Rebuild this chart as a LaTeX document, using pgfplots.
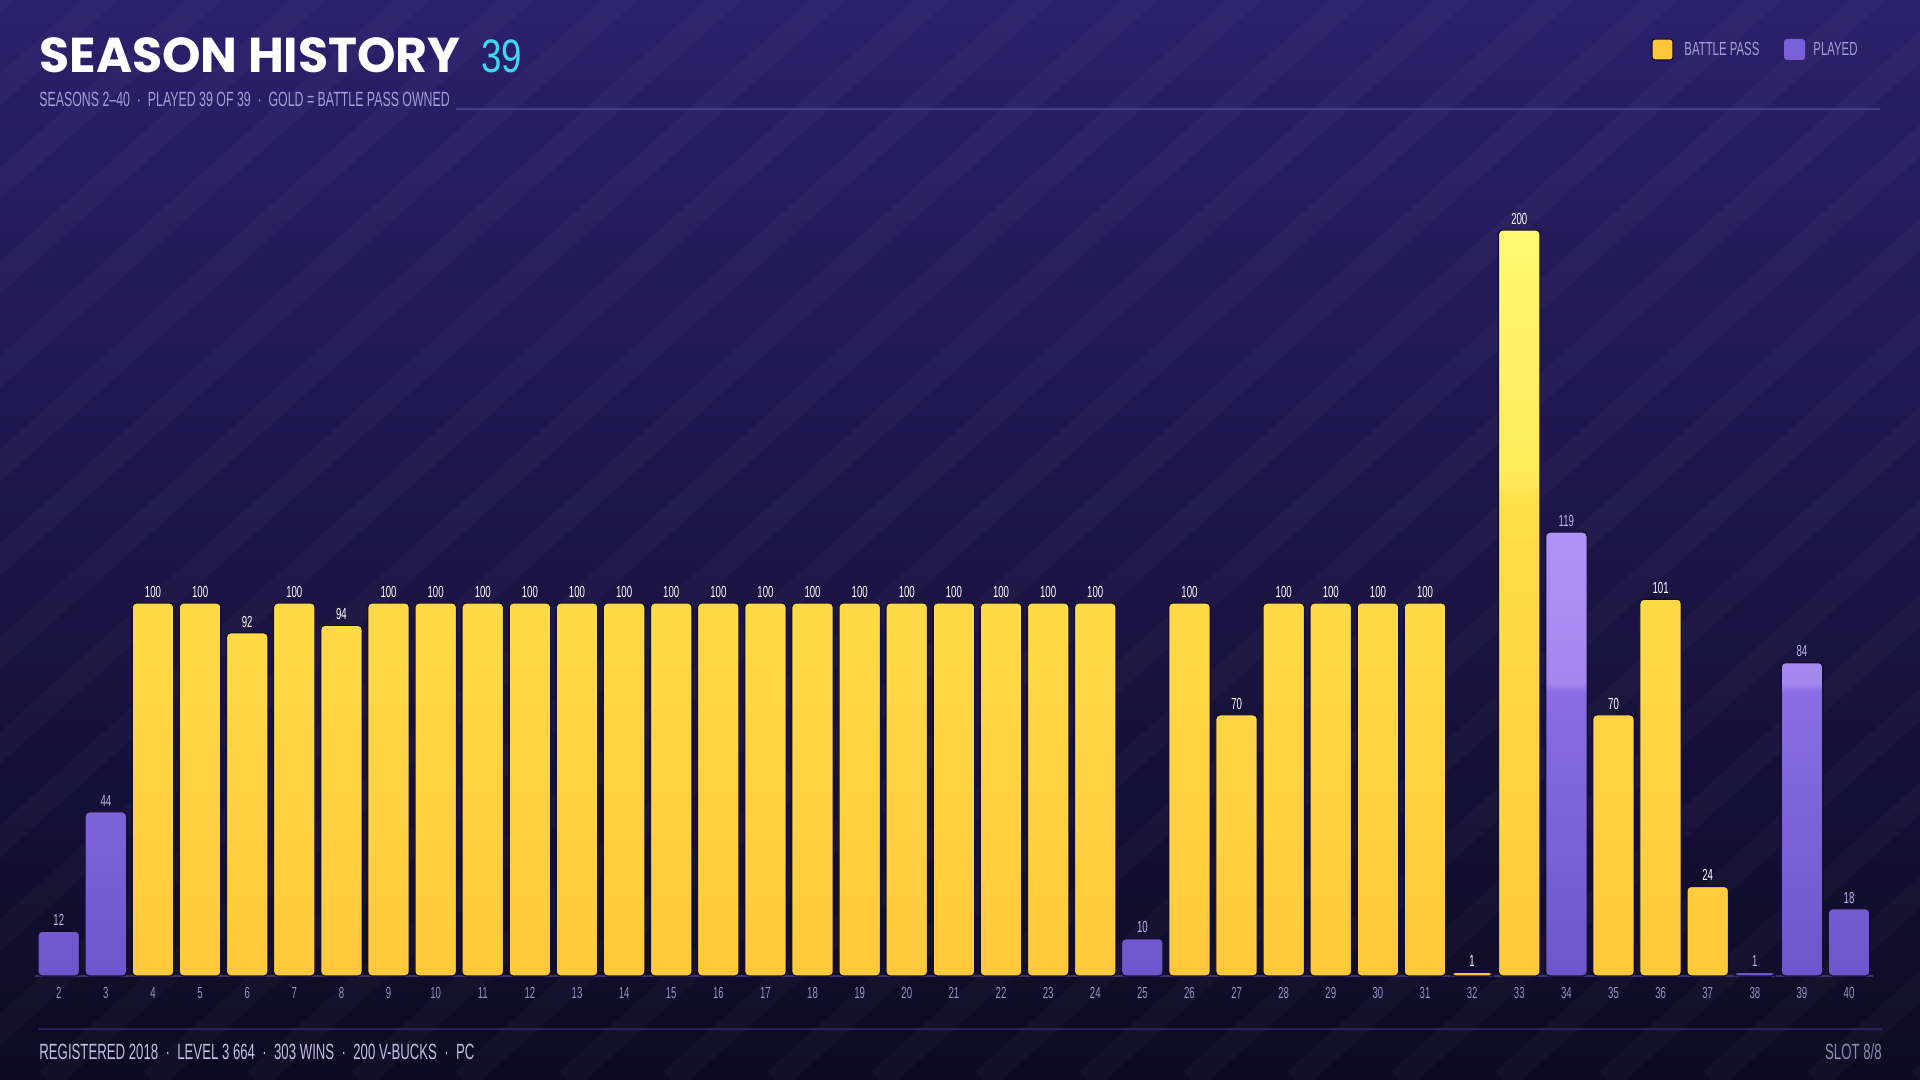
\documentclass[border=0pt]{standalone}
\usepackage{fontspec}
\setmainfont{Liberation Sans}[FakeStretch=0.68]
\newfontfamily\condfont{Liberation Sans}[FakeStretch=0.6]
\newfontfamily\numfont{Liberation Sans}[FakeStretch=0.78]
\newfontfamily\titlefont{Poppins}
\usepackage{pgfplots}
\pgfplotsset{compat=1.18}
\definecolor{bgtop}{HTML}{2B206C}
\definecolor{bgmid}{HTML}{1D1550}
\definecolor{bgbot}{HTML}{0D0A22}
\definecolor{gtop}{HTML}{FFF872}
\definecolor{glight}{HTML}{FFEA5C}
\definecolor{gmid}{HTML}{FFDF4A}
\definecolor{gbot}{HTML}{FFC93B}
\definecolor{ptop}{HTML}{AF93F8}
\definecolor{plight}{HTML}{A387EE}
\definecolor{pmid}{HTML}{8A6DE2}
\definecolor{pbot}{HTML}{6E55CB}
\definecolor{cyanc}{HTML}{3ED8F2}
\definecolor{subc}{HTML}{A39DD3}
\definecolor{tickc}{HTML}{9690C4}
\definecolor{plabc}{HTML}{BDB2EC}
\definecolor{footc}{HTML}{C2BDE3}
\definecolor{slotc}{HTML}{8E88B5}
\definecolor{barline}{HTML}{130D2E}
\definecolor{basec}{HTML}{3A3370}
\definecolor{hlinec}{HTML}{443C8A}
\definecolor{flinec}{HTML}{2A2452}
\definecolor{legg}{HTML}{FFC83A}
\definecolor{legp}{HTML}{7A5FD8}
\pgfdeclareverticalshading{goldsh}{100bp}{color(0bp)=(gbot); color(25bp)=(gbot); color(57bp)=(gmid); color(58bp)=(glight); color(75bp)=(gtop); color(100bp)=(gtop)}
\pgfdeclareverticalshading{purpsh}{100bp}{color(0bp)=(pbot); color(25bp)=(pbot); color(57bp)=(pmid); color(58bp)=(plight); color(75bp)=(ptop); color(100bp)=(ptop)}

\pgfplotstableread{
x y
4 100
5 100
6 92
7 100
8 94
9 100
10 100
11 100
12 100
13 100
14 100
15 100
16 100
17 100
18 100
19 100
20 100
21 100
22 100
23 100
24 100
26 100
27 70
28 100
29 100
30 100
31 100
32 1
33 200
35 70
36 101
37 24
}\goldtable
\pgfplotstableread{
x y
2 12
3 44
25 10
34 119
38 1
39 84
40 18
}\purpletable

\begin{document}
\begin{tikzpicture}
\shade[top color=bgtop, middle color=bgmid, bottom color=bgbot] (0pt,0pt) rectangle (960pt,540pt);
\begin{scope}
\clip (0pt,0pt) rectangle (960pt,540pt);
\foreach \i in {-600,-548,...,960}
  \draw[white, opacity=0.025, line width=12pt] (\i pt,0pt) -- ++(620pt,560pt);
\end{scope}

% title
\node[anchor=base west, inner sep=0, text=white] at (19.5pt,503.5pt)
  {\titlefont\bfseries\fontsize{24.5}{28}\selectfont SEASON HISTORY};
\node[anchor=base west, inner sep=0, text=cyanc] at (240.5pt,503.5pt)
  {\numfont\fontsize{23.5}{28}\selectfont 39};
\node[anchor=base west, inner sep=0, text=subc] at (19.5pt,486.5pt)
  {\condfont\fontsize{10.3}{12}\selectfont SEASONS 2–40\ \ ·\ \ PLAYED 39 OF 39\ \ ·\ \ GOLD = BATTLE PASS OWNED};
\draw[hlinec, line width=0.6pt] (228pt,485.5pt) -- (940pt,485.5pt);

% legend
\fill[legg, draw=barline, line width=0.6pt, rounded corners=1.5pt] (826pt,510pt) rectangle (836.5pt,520.5pt);
\node[anchor=west, inner sep=0, text=subc] at (842pt,515.3pt) {\condfont\fontsize{9.5}{11}\selectfont BATTLE PASS};
\fill[legp, rounded corners=1.5pt] (892pt,510pt) rectangle (902.5pt,520.5pt);
\node[anchor=west, inner sep=0, text=subc] at (906.5pt,515.3pt) {\condfont\fontsize{9.5}{11}\selectfont PLAYED};

% footer
\draw[flinec, line width=0.8pt] (19.5pt,25.5pt) -- (941pt,25.5pt);
\node[anchor=base west, inner sep=0, text=footc] at (19.5pt,10pt)
  {\condfont\fontsize{11}{13}\selectfont REGISTERED 2018\ \ ·\ \ LEVEL 3 664\ \ ·\ \ 303 WINS\ \ ·\ \ 200 V-BUCKS\ \ ·\ \ PC};
\node[anchor=base east, inner sep=0, text=slotc] at (941pt,10pt)
  {\condfont\fontsize{11}{13}\selectfont SLOT 8/8};

\begin{axis}[
  at={(17.6pt,52pt)}, anchor=south west,
  scale only axis, width=918.7pt, height=391.65pt,
  xmin=1.5, xmax=40.5, ymin=0, ymax=210,
  axis y line=none, axis x line*=bottom,
  x axis line style={-, draw=basec, line width=0.6pt},
  xtick={2,...,40}, major tick length=0pt,
  xticklabel style={font=\condfont\fontsize{8}{9}\selectfont, text=tickc, yshift=-2pt},
  /pgf/number format/assume math mode=true,
  ybar, bar width=0.88, clip=false,
  nodes near coords,
  every node near coord/.append style={font=\condfont\fontsize{8}{9}\selectfont, inner sep=2.5pt},
]
\addplot[bar shift=0pt, draw=barline, line width=0.6pt, rounded corners=2pt,
  shade, shading=goldsh,
  every node near coord/.append style={text=white}]
  table[x=x,y=y] {\goldtable};
\addplot[bar shift=0pt, draw=barline, line width=0.6pt, rounded corners=2pt,
  shade, shading=purpsh,
  every node near coord/.append style={text=plabc}]
  table[x=x,y=y] {\purpletable};
\end{axis}
\end{tikzpicture}
\end{document}
